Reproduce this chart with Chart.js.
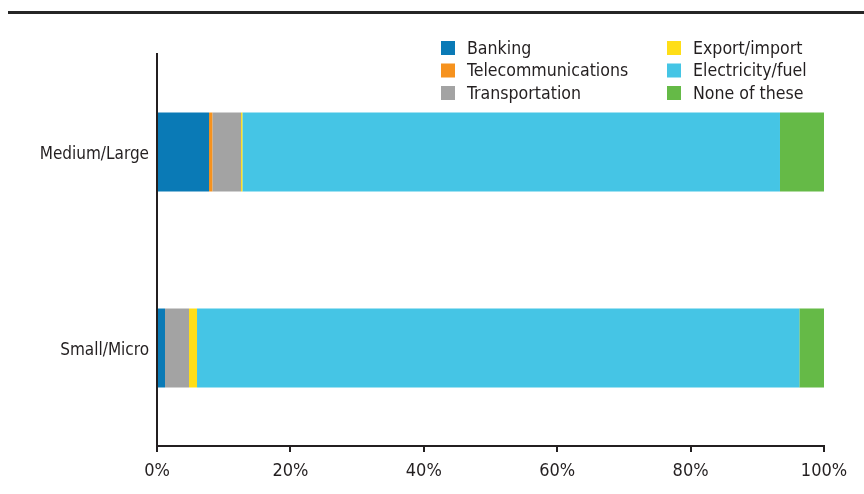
<!DOCTYPE html>
<html>
<head>
<meta charset="utf-8">
<script src="https://cdn.jsdelivr.net/npm/chart.js@4/dist/chart.umd.min.js"></script>
<style>
  html, body { margin: 0; padding: 0; background: #fff; }
  #wrap { width: 864px; height: 494px; position: relative; }
</style>
</head>
<body>
<div id="wrap"><canvas id="grafico"></canvas></div>
<script>
// Categorías y series (porcentaje de empresas)
const categorias = ["Medium/Large", "Small/Micro"];
const series = ["Banking", "Telecommunications", "Transportation", "Export/import", "Electricity/fuel", "None of these"];
const banking = [7.8, 1.2];
const telecom = [0.5, 0];
const transporte = [4.3, 3.6];
const exportacion = [0.2, 1.2];
const electricidad = [80.6, 90.3];
const ninguno = [6.6, 3.7];
const ticksX = [0, 20, 40, 60, 80, 100];

const colores = ["#0a7ab6", "#f6921e", "#a3a3a3", "#ffde17", "#45c5e5", "#65ba47"];
const valores = [banking, telecom, transporte, exportacion, electricidad, ninguno];

const fuente = "'DejaVu Sans Condensed', 'Liberation Sans Narrow', 'Arial Narrow', sans-serif";
const tinta = "#231f20";

// Línea gruesa superior
const lineaSuperior = {
  id: "lineaSuperior",
  beforeDraw(chart) {
    const c = chart.ctx;
    c.save();
    c.fillStyle = "#262626";
    c.fillRect(8, 11, chart.width - 8, 3);
    c.restore();
  }
};

// Leyenda en dos columnas (orden por columnas)
const leyenda = {
  id: "leyenda",
  afterDraw(chart) {
    const c = chart.ctx;
    c.save();
    c.font = "17.6px " + fuente;
    c.textBaseline = "middle";
    chart.data.datasets.forEach((ds, i) => {
      const col = Math.floor(i / 3), fila = i % 3;
      const x = 441 + col * 226;
      const y = 48 + fila * 22.5;
      c.fillStyle = ds.backgroundColor;
      c.fillRect(x, y - 7, 14, 14);
      c.fillStyle = tinta;
      c.fillText(ds.label, x + 26, y + 1);
    });
    c.restore();
  }
};

const ctx = document.getElementById("grafico").getContext("2d");
new Chart(ctx, {
  type: "bar",
  data: {
    labels: categorias,
    datasets: series.map((s, i) => ({
      label: s,
      data: valores[i],
      backgroundColor: colores[i],
      borderWidth: 0,
      barPercentage: 0.403,
      categoryPercentage: 1
    }))
  },
  options: {
    indexAxis: "y",
    responsive: true,
    maintainAspectRatio: false,
    animation: false,
    layout: { padding: { top: 54, right: 40, left: 0, bottom: 0 } },
    plugins: { legend: { display: false }, tooltip: { enabled: false } },
    scales: {
      x: {
        stacked: true,
        min: 0,
        max: 100,
        afterFit(scale) { scale.height = 48; },
        afterBuildTicks(scale) { scale.ticks = ticksX.map(v => ({ value: v })); },
        border: { display: true, color: "#231f20", width: 2 },
        grid: { display: true, drawOnChartArea: false, drawTicks: true, tickLength: 6, color: "#231f20", lineWidth: 2 },
        ticks: {
          color: tinta,
          font: { family: fuente, size: 18 },
          padding: 9,
          maxRotation: 0,
          callback: v => v + "%"
        }
      },
      y: {
        stacked: true,
        afterFit(scale) { scale.width = 157; },
        border: { display: true, color: "#231f20", width: 2 },
        grid: { display: false, drawTicks: false },
        ticks: { color: tinta, font: { family: fuente, size: 17 }, padding: 8, labelOffset: 3 }
      }
    }
  },
  plugins: [lineaSuperior, leyenda]
});
</script>
</body>
</html>
